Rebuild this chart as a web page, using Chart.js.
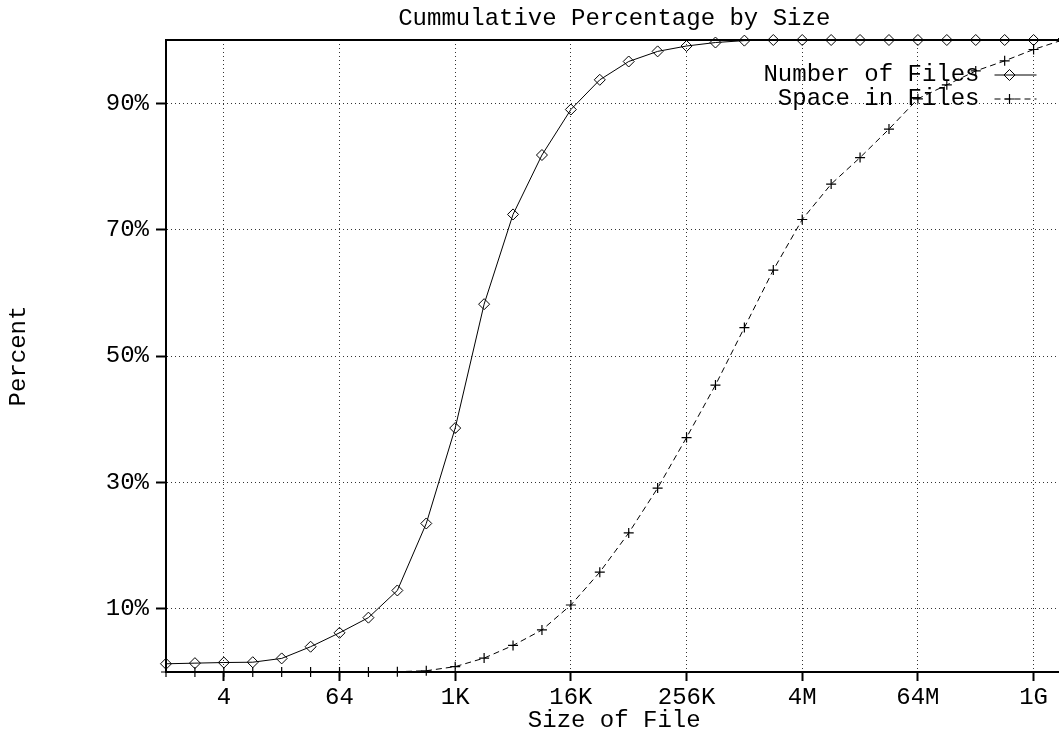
<!DOCTYPE html>
<html>
<head>
<meta charset="utf-8">
<script src="https://cdn.jsdelivr.net/npm/chart.js@4/dist/chart.umd.min.js"></script>
<style>
html,body{margin:0;padding:0;overflow:hidden;background:#fff}
canvas{display:block}
</style>
</head>
<body>
<canvas id="c" width="1069" height="731" style="width:1069px;height:731px"></canvas>
<script>
// File sizes (bytes), one point per power of two
const fileSizes = [1, 2, 4, 8, 16, 32, 64, 128, 256, 512, 1024, 2048, 4096, 8192, 16384, 32768,
  65536, 131072, 262144, 524288, 1048576, 2097152, 4194304, 8388608, 16777216, 33554432,
  67108864, 134217728, 268435456, 536870912, 1073741824, 2147483648];

// Cumulative percentage of number of files
const numberOfFiles = [1.3, 1.4, 1.5, 1.55, 2.15, 4.0, 6.2, 8.6, 12.9, 23.5, 38.6, 58.2, 72.4, 81.8,
  89.0, 93.7, 96.6, 98.2, 99.05, 99.6, 99.9, 100, 100, 100, 100, 100, 100, 100, 100, 100, 100, 100];

// Cumulative percentage of space in files
const spaceInFiles = [0, 0, 0, 0, 0, 0, 0, 0, 0.05, 0.2, 0.85, 2.2, 4.2, 6.65, 10.6, 15.8, 22.0,
  29.1, 37.1, 45.4, 54.5, 63.6, 71.6, 77.2, 81.4, 85.9, 90.7, 92.9, 95.1, 96.7, 98.5, 100];

const xTickValues = [4, 64, 1024, 16384, 262144, 4194304, 67108864, 1073741824];
const xTickLabels = ['4', '64', '1K', '16K', '256K', '4M', '64M', '1G'];
const yTickValues = [10, 30, 50, 70, 90];
const yTickLabels = ['10%', '30%', '50%', '70%', '90%'];

const seriesNames = ['Number of Files', 'Space in Files'];

const FONT = "'Liberation Mono', 'Courier New', monospace";
Chart.defaults.color = '#000';
Chart.defaults.font.family = FONT;
Chart.defaults.font.size = 24;

const framePlugin = {
  id: 'frame',
  beforeDatasetsDraw(chart) {
    const {ctx, chartArea: a} = chart;
    ctx.save();
    ctx.strokeStyle = '#000';
    ctx.lineWidth = 2;
    ctx.beginPath();
    ctx.moveTo(a.left - 1, a.top);
    ctx.lineTo(a.right, a.top);
    ctx.lineTo(a.right, a.bottom);
    ctx.stroke();
    ctx.restore();
  }
};

const legendPlugin = {
  id: 'insideLegend',
  afterDatasetsDraw(chart) {
    const {ctx, chartArea: a} = chart;
    const textRight = a.right - 83;
    const lineStart = a.right - 68;
    const lineEnd = a.right - 26;
    const markX = a.right - 53;
    const rows = [a.top + 35, a.top + 59];
    ctx.save();
    ctx.font = '24px ' + FONT;
    ctx.textAlign = 'right';
    ctx.textBaseline = 'middle';
    chart.data.datasets.forEach((ds, i) => {
      const y = rows[i];
      ctx.fillStyle = '#000';
      ctx.fillText(ds.label, textRight, y);
      ctx.save();
      ctx.strokeStyle = '#000';
      ctx.fillStyle = 'rgba(0,0,0,0)';
      ctx.lineWidth = ds.borderWidth;
      ctx.setLineDash(ds.borderDash || []);
      ctx.beginPath();
      ctx.moveTo(lineStart, y);
      ctx.lineTo(lineEnd, y);
      ctx.stroke();
      ctx.setLineDash([]);
      ctx.lineWidth = ds.pointBorderWidth;
      Chart.helpers.drawPoint(ctx, {
        pointStyle: ds.pointStyle, radius: ds.pointRadius, rotation: 0, borderWidth: ds.pointBorderWidth
      }, markX, y);
      ctx.restore();
    });
    ctx.restore();
  }
};

new Chart(document.getElementById('c'), {
  type: 'line',
  data: {
    datasets: [
      {
        label: seriesNames[0],
        data: fileSizes.map((s, i) => ({x: s, y: numberOfFiles[i]})),
        borderColor: '#000',
        borderWidth: 1,
        pointStyle: 'rectRot',
        pointRadius: 5.5,
        pointBorderColor: '#000',
        pointBackgroundColor: 'rgba(0,0,0,0)',
        pointBorderWidth: 1,
        tension: 0,
        clip: false
      },
      {
        label: seriesNames[1],
        data: fileSizes.map((s, i) => ({x: s, y: spaceInFiles[i]})),
        borderColor: '#000',
        borderWidth: 1,
        borderDash: [6, 4],
        pointStyle: 'cross',
        pointRadius: 5,
        pointBorderColor: '#000',
        pointBackgroundColor: 'rgba(0,0,0,0)',
        pointBorderWidth: 1.2,
        tension: 0,
        clip: false
      }
    ]
  },
  options: {
    animation: false,
    responsive: false,
    devicePixelRatio: 1,
    events: [],
    layout: {padding: {left: 4, right: 2, top: 0, bottom: 0}},
    plugins: {
      legend: {display: false},
      tooltip: {enabled: false},
      title: {
        display: true,
        text: 'Cummulative Percentage by Size',
        fullSize: false,
        color: '#000',
        font: {family: FONT, size: 24, weight: 'normal', lineHeight: 1},
        padding: {top: 7, bottom: 9}
      }
    },
    scales: {
      x: {
        type: 'logarithmic',
        min: fileSizes[0],
        max: fileSizes[fileSizes.length - 1],
        afterBuildTicks: (scale) => { scale.ticks = xTickValues.map(v => ({value: v})); },
        afterFit: (scale) => { scale.height = 59; scale.paddingLeft = 0; scale.paddingRight = 0; },
        ticks: {
          autoSkip: false, maxRotation: 0, minRotation: 0, padding: 2, color: '#000',
          font: {family: FONT, size: 24},
          callback: (v, i) => xTickLabels[i]
        },
        grid: {color: '#333', lineWidth: 1, tickLength: 9, tickWidth: 2, tickColor: '#000', drawTicks: true},
        border: {display: true, color: '#000', width: 2, dash: [1, 3]},
        title: {display: true, text: 'Size of File', color: '#000', font: {family: FONT, size: 24, lineHeight: 0.85}, padding: 0}
      },
      y: {
        type: 'linear',
        min: 0,
        max: 100,
        afterBuildTicks: (scale) => { scale.ticks = yTickValues.map(v => ({value: v})); },
        afterFit: (scale) => { scale.width = 162; },
        ticks: {
          padding: 7, color: '#000',
          font: {family: FONT, size: 24},
          callback: (v, i) => yTickLabels[i]
        },
        grid: {color: '#333', lineWidth: 1, tickLength: 10, tickWidth: 2, tickColor: '#000', drawTicks: true},
        border: {display: true, color: '#000', width: 2, dash: [1, 3]},
        title: {display: true, text: 'Percent', color: '#000', font: {family: FONT, size: 24, lineHeight: 1.2}, padding: 0}
      }
    }
  },
  plugins: [framePlugin, legendPlugin]
});
</script>
</body>
</html>
